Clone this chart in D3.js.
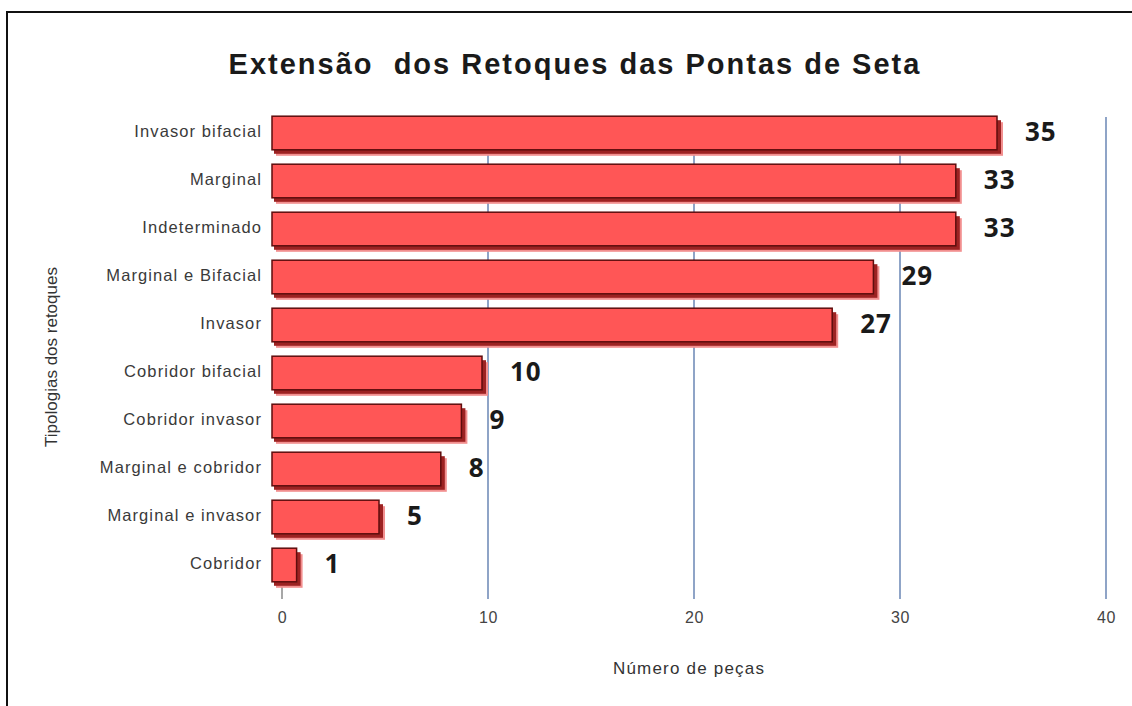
<!DOCTYPE html>
<html>
<head>
<meta charset="utf-8">
<script src="https://cdn.jsdelivr.net/npm/d3@7"></script>
<style>
  body { margin: 0; background: #fff; }
  svg { display: block; }
</style>
</head>
<body>
<div id="chart"></div>
<script>
const categories = ['Invasor bifacial', 'Marginal', 'Indeterminado', 'Marginal e Bifacial', 'Invasor',
  'Cobridor bifacial', 'Cobridor invasor', 'Marginal e cobridor', 'Marginal e invasor', 'Cobridor']
const values = [35, 33, 33, 29, 27, 10, 9, 8, 5, 1]
const xTicks = [0, 10, 20, 30, 40]

const chartTitle = 'Extensão  dos Retoques das Pontas de Seta'
const xTitle = 'Número de peças'
const yTitle = 'Tipologias dos retoques'

const drawChart = () => {
  const data = categories.map((c, i) => ({ name: c, value: values[i] }))

  const svg = d3.select('#chart')
    .append('svg')
    .attr('width', 1132)
    .attr('height', 706)

  // frame (only left and top edges fit in the picture)
  svg.append('rect')
    .attr('x', 7)
    .attr('y', 12)
    .attr('width', 1200)
    .attr('height', 800)
    .attr('fill', '#fff')
    .attr('stroke', '#111')
    .attr('stroke-width', 2)

  const xScale = d3.scaleLinear()
    .domain([0, 40])
    .range([282, 1106])

  const yScale = d3.scaleBand()
    .domain(categories)
    .range([109, 589])
    .paddingInner(0.3)
    .paddingOuter(0.15)

  // grid lines
  svg.append('g')
    .selectAll('line')
    .data(xTicks)
    .enter()
    .append('line')
    .attr('x1', d => xScale(d))
    .attr('x2', d => xScale(d))
    .attr('y1', d => d === 0 ? 587 : 117)
    .attr('y2', 599)
    .attr('stroke', d => d === 0 ? '#8a8a8a' : '#6a86b4')
    .attr('stroke-width', 1.5)

  const xAxis = d3.axisBottom(xScale)
    .tickValues(xTicks)
    .tickSize(0)
    .tickPadding(0)

  svg.append('g')
    .attr('transform', 'translate(0, 610)')
    .call(xAxis)
    .call(g => g.select('.domain').remove())
    .selectAll('text')
    .attr('dy', '0.32em')
    .attr('y', 8)
    .style('font-family', '"Liberation Sans", Arial, sans-serif')
    .style('font-size', '16px')
    .style('letter-spacing', '0.6px')
    .style('fill', '#444')

  const yAxis = d3.axisLeft(yScale)
    .tickSize(0)
    .tickPadding(0)

  svg.append('g')
    .attr('transform', 'translate(262, 0)')
    .call(yAxis)
    .call(g => g.select('.domain').remove())
    .selectAll('text')
    .attr('dy', '0.35em')
    .attr('y', -2)
    .style('font-family', '"Liberation Sans", Arial, sans-serif')
    .style('font-size', '16.5px')
    .style('letter-spacing', '1.1px')
    .style('fill', '#3a3a3a')

  const bars = svg.append('g')
    .selectAll('g')
    .data(data)
    .enter()
    .append('g')

  // soft shadow behind each bar
  bars.append('rect')
    .attr('x', xScale(0) - 6)
    .attr('y', d => yScale(d.name) + 6)
    .attr('width', d => xScale(d.value) - xScale(0) + 6)
    .attr('height', yScale.bandwidth())
    .attr('fill', '#f28f8f')

  bars.append('rect')
    .attr('x', xScale(0) - 8)
    .attr('y', d => yScale(d.name) + 4)
    .attr('width', d => xScale(d.value) - xScale(0) + 6)
    .attr('height', yScale.bandwidth())
    .attr('fill', '#9c2222')

  // bar face
  bars.append('rect')
    .attr('x', xScale(0) - 10)
    .attr('y', d => yScale(d.name))
    .attr('width', d => xScale(d.value) - xScale(0) + 4)
    .attr('height', yScale.bandwidth())
    .attr('fill', '#ff5656')
    .attr('stroke', '#5e0d0d')
    .attr('stroke-width', 1.5)

  bars.append('text')
    .attr('x', d => xScale(d.value) + 22)
    .attr('y', d => yScale(d.name) + yScale.bandwidth() / 2 - 1)
    .attr('dy', '0.35em')
    .style('font-family', '"Noto Sans", "Open Sans", sans-serif')
    .style('font-weight', 'bold')
    .style('font-size', '26px')
    .style('letter-spacing', '1px')
    .style('fill', '#1a1a1a')
    .text(d => d.value)

  svg.append('text')
    .attr('x', 575)
    .attr('y', 74)
    .attr('text-anchor', 'middle')
    .style('white-space', 'pre')
    .style('font-family', '"Liberation Sans", Arial, sans-serif')
    .style('font-weight', 'bold')
    .style('font-size', '29px')
    .style('letter-spacing', '2px')
    .style('fill', '#1a1a1a')
    .text(chartTitle)

  svg.append('text')
    .attr('x', 689)
    .attr('y', 674)
    .attr('text-anchor', 'middle')
    .style('font-family', '"Liberation Sans", Arial, sans-serif')
    .style('font-size', '17px')
    .style('letter-spacing', '1.2px')
    .style('fill', '#333')
    .text(xTitle)

  svg.append('text')
    .attr('transform', 'translate(57, 357) rotate(-90)')
    .attr('text-anchor', 'middle')
    .style('font-family', '"Liberation Sans", Arial, sans-serif')
    .style('font-size', '17px')
    .style('fill', '#333')
    .text(yTitle)
}

drawChart()
</script>
</body>
</html>
